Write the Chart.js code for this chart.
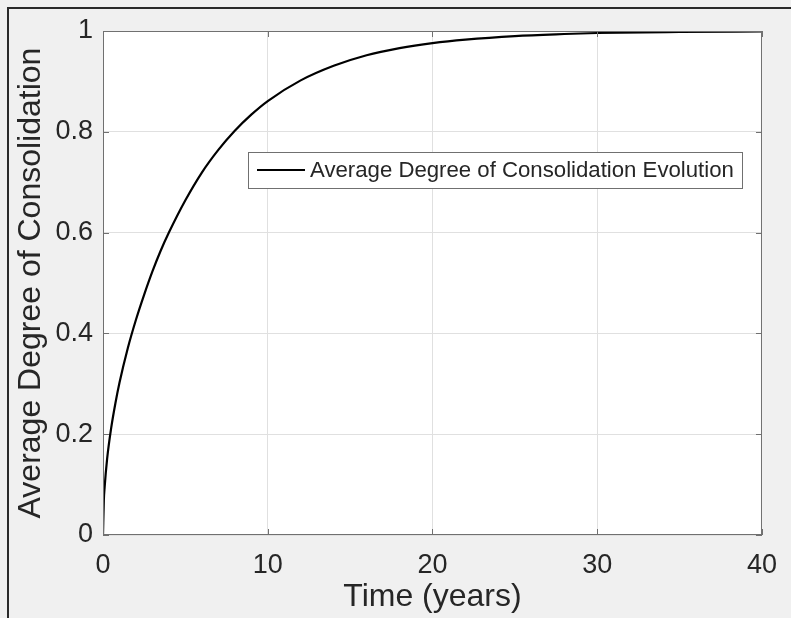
<!DOCTYPE html>
<html>
<head>
<meta charset="utf-8">
<script src="https://cdn.jsdelivr.net/npm/chart.js@4.4.1/dist/chart.umd.min.js"></script>
<style>
  html, body { margin: 0; padding: 0; background: #f0f0f0; overflow: hidden; }
  #frame { position: absolute; left: 7px; top: 7px; width: 900px; height: 700px;
           border-top: 2px solid #2a2a2a; border-left: 2px solid #2a2a2a; }
  #chart { position: absolute; left: 0; top: 0; }
</style>
</head>
<body>
<div id="frame"></div>
<canvas id="chart" width="791" height="618"></canvas>
<script>
// values
const timeYears = [0, 0.05, 0.1, 0.25, 0.5, 0.75, 1, 1.5, 2, 2.5, 3, 3.5, 4, 5, 6, 7, 8, 9, 10,
                   12, 14, 16, 18, 20, 22, 25, 28, 30, 35, 40]
const avgConsolidation = [0, 0.068, 0.095, 0.151, 0.213, 0.261, 0.302, 0.370, 0.427, 0.477, 0.523,
                          0.564, 0.600, 0.664, 0.719, 0.764, 0.802, 0.834, 0.861, 0.902, 0.931,
                          0.952, 0.966, 0.976, 0.983, 0.990, 0.994, 0.996, 0.998, 0.999]
const xTicks = [0, 10, 20, 30, 40]
const yTicks = [0, 0.2, 0.4, 0.6, 0.8, 1]
const seriesLabel = 'Average Degree of Consolidation Evolution'
const xTitle = 'Time (years)'
const yTitle = 'Average Degree of Consolidation'

const FONT = '"Liberation Sans", Arial, sans-serif'
const TEXT = '#262626'
const BOX = '#707070'

// white plot area, inward ticks on all sides, box and legend (matlab look)
const matlabAxes = {
  id: 'matlabAxes',
  beforeDraw(chart) {
    const {ctx, chartArea: a} = chart
    ctx.save()
    ctx.fillStyle = '#fff'
    ctx.fillRect(a.left, a.top, a.right - a.left, a.bottom - a.top)
    ctx.restore()
  },
  afterDatasetsDraw(chart) {
    const {ctx, chartArea: a, scales} = chart
    const len = 6
    ctx.save()
    ctx.strokeStyle = BOX
    ctx.lineWidth = 1
    ctx.beginPath()
    scales.x.ticks.forEach(t => {
      const px = Math.round(scales.x.getPixelForValue(t.value)) + 0.5
      ctx.moveTo(px, a.bottom); ctx.lineTo(px, a.bottom - len)
      ctx.moveTo(px, a.top); ctx.lineTo(px, a.top + len)
    })
    scales.y.ticks.forEach(t => {
      const py = Math.round(scales.y.getPixelForValue(t.value)) + 0.5
      ctx.moveTo(a.left, py); ctx.lineTo(a.left + len, py)
      ctx.moveTo(a.right, py); ctx.lineTo(a.right - len, py)
    })
    ctx.stroke()
    ctx.strokeRect(a.left + 0.5, a.top + 0.5, a.right - a.left - 1, a.bottom - a.top - 1)

    // legend box
    const ds = chart.data.datasets[0]
    const lx = a.left + 145, ly = a.top + 121, lw = 494, lh = 36
    ctx.fillStyle = '#fff'
    ctx.fillRect(lx, ly, lw, lh)
    ctx.strokeStyle = BOX
    ctx.strokeRect(lx + 0.5, ly + 0.5, lw, lh)
    ctx.strokeStyle = ds.borderColor
    ctx.lineWidth = ds.borderWidth
    ctx.beginPath()
    ctx.moveTo(lx + 9, ly + lh / 2); ctx.lineTo(lx + 57, ly + lh / 2)
    ctx.stroke()
    ctx.fillStyle = TEXT
    ctx.font = '22.2px ' + FONT
    ctx.textBaseline = 'middle'
    ctx.fillText(ds.label, lx + 62, ly + lh / 2 + 1)
    ctx.restore()
  }
}

new Chart(document.getElementById('chart'), {
  type: 'line',
  data: {
    datasets: [{
      label: seriesLabel,
      data: timeYears.map((t, i) => ({x: t, y: avgConsolidation[i]})),
      borderColor: '#000',
      borderWidth: 2.2,
      pointRadius: 0,
      cubicInterpolationMode: 'monotone',
      fill: false
    }]
  },
  options: {
    responsive: false,
    animation: false,
    layout: {padding: {top: 31, right: 29, left: 0, bottom: 0}},
    plugins: {legend: {display: false}, tooltip: {enabled: false}},
    scales: {
      x: {
        type: 'linear', min: 0, max: 40,
        afterBuildTicks: s => { s.ticks = xTicks.map(v => ({value: v})) },
        afterFit: s => { s.height = 83 },
        border: {display: false},
        grid: {color: '#e0e0e0', drawTicks: false},
        ticks: {padding: 14, color: TEXT, font: {family: FONT, size: 27}},
        title: {display: true, text: xTitle, color: TEXT, font: {family: FONT, size: 32},
                padding: {top: 0, bottom: 2}}
      },
      y: {
        type: 'linear', min: 0, max: 1,
        afterBuildTicks: s => { s.ticks = yTicks.map(v => ({value: v})) },
        afterFit: s => { s.width = 103 },
        border: {display: false},
        grid: {color: '#e0e0e0', drawTicks: false},
        ticks: {padding: 10, color: TEXT, font: {family: FONT, size: 27},
                callback: v => String(v)},
        title: {display: true, text: yTitle, color: TEXT, font: {family: FONT, size: 32},
                padding: {top: 12, bottom: 0}}
      }
    }
  },
  plugins: [matlabAxes]
})
</script>
</body>
</html>
